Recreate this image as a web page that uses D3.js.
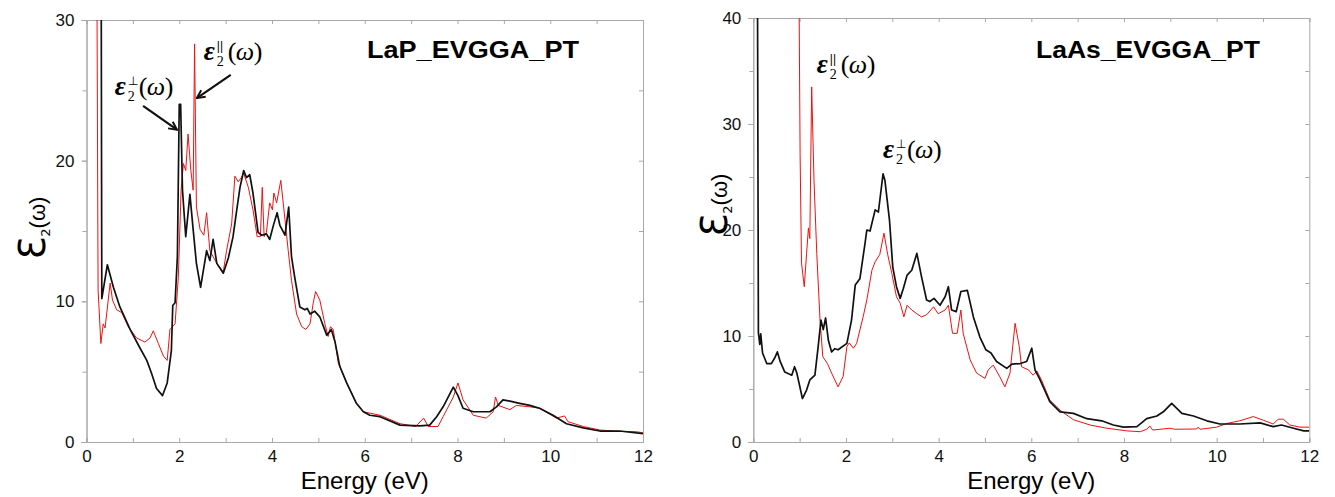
<!DOCTYPE html>
<html>
<head>
<meta charset="utf-8">
<script src="https://cdn.jsdelivr.net/npm/d3@7"></script>
<style>
  body { margin: 0; background: #fff; }
  svg { display: block; }
  .frame path.domain, .frame line { stroke: #a8a8a8; }
  .tick text { font-family: "Liberation Sans", Arial, sans-serif; fill: #111; }
</style>
</head>
<body>
<svg class="chart" width="1335" height="497"></svg>
<script>
// energy (eV), eps2 pairs
let lapPerp = [
  [0.31, 45], [0.33, 10.2], [0.45, 12.6], [0.58, 11.0], [0.72, 9.6], [0.94, 8.0], [1.15, 6.7],
  [1.30, 5.8], [1.40, 4.9], [1.51, 3.8], [1.64, 3.3], [1.74, 4.2], [1.83, 6.5], [1.86, 9.7],
  [1.91, 9.9], [1.96, 13.2], [2.00, 24.0], [2.03, 24.0], [2.07, 17.9], [2.14, 14.6], [2.23, 17.6],
  [2.30, 15.1], [2.37, 12.7], [2.46, 11.0], [2.59, 13.6], [2.66, 12.9], [2.73, 14.4], [2.81, 12.7],
  [2.95, 12.0], [3.06, 13.1], [3.16, 14.6], [3.24, 16.5], [3.31, 18.1], [3.39, 19.3], [3.45, 18.8],
  [3.52, 19.0], [3.59, 17.7], [3.70, 14.9], [3.78, 14.7], [3.88, 14.8], [3.95, 14.4], [4.03, 15.4],
  [4.11, 16.3], [4.17, 15.4], [4.28, 14.7], [4.36, 16.7], [4.42, 13.2], [4.49, 11.7], [4.60, 9.6],
  [4.71, 9.4], [4.76, 9.5], [4.82, 9.1], [4.92, 9.3], [5.03, 8.9], [5.18, 7.6], [5.28, 8.0],
  [5.36, 7.1], [5.46, 5.4], [5.61, 4.2], [5.82, 2.75], [5.97, 2.15], [6.11, 1.9], [6.33, 1.8],
  [6.76, 1.2], [7.19, 1.14], [7.40, 1.2], [7.55, 1.8], [7.69, 2.5], [7.91, 3.9], [8.01, 3.3],
  [8.12, 2.4], [8.34, 2.15], [8.70, 2.15], [8.84, 2.5], [8.98, 3.0], [9.13, 2.9], [9.34, 2.75],
  [9.56, 2.6], [9.77, 2.4], [10.06, 1.9], [10.35, 1.3], [10.71, 1.0], [11.07, 0.78], [11.5, 0.78],
  [12.0, 0.6]
]

let lapPar = [
  [0.21, 45], [0.25, 10.8], [0.31, 7.0], [0.36, 8.4], [0.40, 8.1], [0.51, 11.3], [0.56, 10.1],
  [0.65, 9.4], [0.76, 9.2], [0.90, 8.2], [1.08, 7.4], [1.26, 7.1], [1.37, 7.4], [1.44, 7.9],
  [1.55, 7.0], [1.66, 6.1], [1.74, 5.8], [1.80, 8.0], [1.91, 8.4], [1.98, 11.7], [2.04, 17.9],
  [2.09, 19.8], [2.14, 19.3], [2.19, 21.9], [2.25, 19.3], [2.30, 17.9], [2.33, 28.3], [2.37, 16.7],
  [2.45, 15.1], [2.53, 14.7], [2.59, 16.3], [2.66, 13.6], [2.81, 12.7], [2.95, 12.1], [3.02, 13.6],
  [3.13, 15.5], [3.20, 18.9], [3.27, 18.5], [3.34, 18.8], [3.39, 19.1], [3.49, 18.1], [3.59, 16.5],
  [3.68, 14.6], [3.75, 14.6], [3.79, 18.1], [3.83, 14.6], [3.88, 14.9], [3.95, 17.0], [4.01, 16.5],
  [4.04, 17.7], [4.10, 17.0], [4.19, 18.6], [4.28, 15.8], [4.35, 13.6], [4.42, 11.5], [4.53, 9.1],
  [4.64, 8.2], [4.73, 8.0], [4.82, 8.4], [4.89, 9.9], [4.94, 10.7], [5.03, 10.1], [5.14, 8.4],
  [5.21, 7.5], [5.26, 8.2], [5.32, 8.0], [5.43, 5.6], [5.61, 4.2], [5.82, 2.75], [5.97, 2.15],
  [6.33, 1.9], [6.76, 1.3], [7.10, 1.1], [7.27, 1.7], [7.37, 1.1], [7.58, 1.1], [7.69, 1.8],
  [7.91, 3.2], [8.01, 4.2], [8.12, 3.0], [8.34, 1.9], [8.62, 1.7], [8.77, 2.15], [8.82, 3.2],
  [8.88, 2.6], [9.13, 2.3], [9.27, 2.6], [9.56, 2.5], [9.77, 2.4], [10.13, 1.7], [10.31, 1.85],
  [10.38, 1.45], [10.71, 1.1], [11.07, 0.85], [11.5, 0.75], [11.86, 0.73], [12.0, 0.65]
]

let lasPerp = [
  [0.08, 60], [0.11, 10.3], [0.14, 9.2], [0.16, 10.2], [0.20, 8.4], [0.29, 7.4], [0.39, 7.4],
  [0.47, 8.0], [0.52, 8.5], [0.58, 7.6], [0.68, 6.6], [0.83, 6.3], [0.89, 7.1], [0.94, 6.5],
  [1.06, 4.1], [1.15, 4.9], [1.22, 5.85], [1.33, 6.3], [1.40, 9.0], [1.46, 11.5], [1.51, 10.6],
  [1.56, 11.7], [1.62, 9.6], [1.69, 8.5], [1.76, 8.8], [1.83, 8.7], [2.02, 9.3], [2.12, 11.5],
  [2.20, 14.8], [2.30, 15.4], [2.41, 18.7], [2.45, 20.0], [2.52, 19.9], [2.63, 21.9], [2.70, 21.7],
  [2.80, 25.3], [2.84, 24.7], [2.94, 20.9], [3.01, 16.5], [3.09, 14.65], [3.17, 13.55], [3.24, 14.5],
  [3.32, 15.75], [3.42, 16.2], [3.53, 17.8], [3.63, 15.6], [3.74, 13.4], [3.81, 13.25], [3.90, 13.55],
  [4.03, 12.9], [4.14, 13.7], [4.21, 14.65], [4.28, 12.45], [4.38, 12.3], [4.48, 14.2], [4.62, 14.3],
  [4.75, 11.8], [4.89, 9.9], [5.02, 8.7], [5.13, 8.4], [5.25, 7.6], [5.47, 6.95], [5.58, 7.35],
  [5.76, 7.4], [5.90, 7.6], [6.01, 8.85], [6.08, 6.8], [6.19, 5.85], [6.40, 3.8], [6.62, 2.85],
  [6.91, 2.7], [7.20, 2.2], [7.52, 2.0], [7.77, 1.6], [7.99, 1.4], [8.28, 1.45], [8.49, 2.2],
  [8.71, 2.45], [8.85, 2.85], [9.03, 3.65], [9.25, 2.7], [9.50, 2.45], [9.79, 2.0], [10.07, 1.7],
  [10.50, 1.7], [10.94, 1.8], [11.22, 1.45], [11.40, 1.6], [11.66, 1.3], [11.88, 1.05], [12.0, 1.05]
]

let lasPar = [
  [0.96, 60], [1.01, 27.2], [1.04, 16.9], [1.10, 14.65], [1.15, 17.8], [1.19, 20.2], [1.22, 19.2],
  [1.26, 33.5], [1.31, 24.7], [1.37, 17.8], [1.44, 11.5], [1.50, 8.05], [1.60, 7.4], [1.69, 6.5],
  [1.83, 5.2], [1.94, 6.2], [2.02, 9.0], [2.07, 9.35], [2.16, 8.85], [2.23, 9.3], [2.37, 11.8],
  [2.45, 13.4], [2.56, 16.2], [2.63, 17.0], [2.73, 17.7], [2.82, 19.7], [2.90, 17.7], [2.99, 15.9],
  [3.09, 13.7], [3.17, 13.1], [3.25, 11.8], [3.32, 12.9], [3.42, 12.45], [3.53, 12.1], [3.63, 11.8],
  [3.74, 12.0], [3.89, 12.75], [3.99, 12.1], [4.14, 12.45], [4.21, 12.9], [4.30, 10.25], [4.40, 10.25],
  [4.48, 12.45], [4.53, 10.25], [4.68, 7.75], [4.82, 6.5], [5.00, 6.0], [5.07, 6.8], [5.18, 7.25],
  [5.32, 6.15], [5.43, 5.2], [5.54, 6.5], [5.65, 11.2], [5.74, 9.0], [5.79, 7.1], [5.94, 6.8],
  [6.04, 6.3], [6.12, 6.7], [6.22, 5.85], [6.40, 3.95], [6.62, 3.0], [6.91, 2.1], [7.27, 1.6],
  [7.63, 1.3], [8.06, 1.05], [8.35, 0.97], [8.49, 1.2], [8.56, 1.5], [8.62, 1.13], [8.99, 1.3],
  [9.10, 1.2], [9.57, 1.23], [9.60, 1.4], [9.64, 1.2], [10.0, 1.4], [10.22, 1.75], [10.50, 2.0],
  [10.79, 2.4], [11.01, 2.05], [11.22, 1.7], [11.33, 2.15], [11.44, 2.15], [11.58, 1.6], [11.80, 1.4],
  [12.0, 1.4]
]

let energyTicks = [0, 2, 4, 6, 8, 10, 12]
let lapTicks = [0, 10, 20, 30]
let lasTicks = [0, 10, 20, 30, 40]

let svg = d3.select('.chart')

function panel(opt) {
  let x = d3.scaleLinear().domain([0, 12]).range([opt.left, opt.right])
  let y = d3.scaleLinear().domain([0, opt.ymax]).range([opt.bottom, opt.top])
  let g = svg.append('g')

  let minorY = d3.range(0, opt.ymax + 1, 5)
  let minorX = d3.range(0, 13, 1)

  // frame + ticks
  g.append('g').attr('class', 'frame')
    .attr('transform', 'translate(0,' + opt.bottom + ')')
    .call(d3.axisBottom(x).tickValues(minorX).tickSize(-4).tickFormat(''))
  g.append('g').attr('class', 'frame')
    .attr('transform', 'translate(0,' + opt.bottom + ')')
    .call(d3.axisBottom(x).tickValues(energyTicks).tickSize(0).tickPadding(8))
    .selectAll('text').attr('font-size', 17)
  g.append('g').attr('class', 'frame')
    .attr('transform', 'translate(0,' + opt.top + ')')
    .call(d3.axisTop(x).tickValues(minorX).tickSize(-4).tickFormat(''))
  g.append('g').attr('class', 'frame')
    .attr('transform', 'translate(' + opt.left + ',0)')
    .call(d3.axisLeft(y).tickValues(minorY).tickSize(4).tickFormat(''))
  g.append('g').attr('class', 'frame')
    .attr('transform', 'translate(' + opt.left + ',0)')
    .call(d3.axisLeft(y).tickValues(opt.yticks).tickSize(5).tickPadding(7))
    .selectAll('text').attr('font-size', 17)
  g.append('g').attr('class', 'frame')
    .attr('transform', 'translate(' + opt.right + ',0)')
    .call(d3.axisRight(y).tickValues(minorY).tickSize(-4).tickFormat(''))
  g.selectAll('.frame .domain').attr('stroke', '#a8a8a8')

  // clip the curves to the plot box
  g.append('clipPath').attr('id', opt.id)
    .append('rect')
    .attr('x', opt.left).attr('y', opt.top)
    .attr('width', opt.right - opt.left).attr('height', opt.bottom - opt.top)

  let line = d3.line().x(d => x(d[0])).y(d => y(d[1]))

  g.append('path').datum(opt.par)
    .attr('clip-path', 'url(#' + opt.id + ')')
    .attr('d', line).attr('fill', 'none')
    .attr('stroke', '#f01010').attr('stroke-width', 1).attr('stroke-linejoin', 'round')
  g.append('path').datum(opt.perp)
    .attr('clip-path', 'url(#' + opt.id + ')')
    .attr('d', line).attr('fill', 'none')
    .attr('stroke', '#111').attr('stroke-width', 1.7).attr('stroke-linejoin', 'round')

  // title
  g.append('text')
    .attr('x', opt.titleX).attr('y', 58)
    .attr('font-family', '"Liberation Sans", Arial, sans-serif')
    .attr('font-weight', 'bold').attr('font-size', 23)
    .attr('textLength', opt.titleW).attr('lengthAdjust', 'spacingAndGlyphs')
    .text(opt.title)

  // x label
  g.append('text')
    .attr('x', (opt.left + opt.right) / 2).attr('y', 489)
    .attr('text-anchor', 'middle')
    .attr('font-family', '"Liberation Sans", Arial, sans-serif')
    .attr('font-size', 24)
    .text('Energy (eV)')

  // y label
  let yl = g.append('text')
    .attr('transform', 'translate(' + opt.ylabX + ',' + opt.ylabY + ') rotate(-90)')
    .attr('text-anchor', 'middle')
    .attr('font-family', '"DejaVu Sans", sans-serif')
  yl.append('tspan').attr('font-size', 37).text('Ɛ')
  yl.append('tspan').attr('font-size', 13).attr('dy', 5).text('2')
  yl.append('tspan').attr('font-size', 22).attr('dy', -5)
    .attr('font-family', '"Liberation Sans", Arial, sans-serif').text('(ω)')

  // annotations
  opt.notes.forEach(n => {
    let px = x(n.e), py = y(n.v)
    let t = g.append('g').attr('font-family', '"Liberation Serif", "Times New Roman", serif')
    t.append('text').attr('x', px).attr('y', py)
      .attr('font-size', 27).attr('font-style', 'italic').attr('font-weight', 'bold').text('ε')
    t.append('text').attr('x', px + 13).attr('y', py + 6)
      .attr('font-size', 14).text('2')
    t.append('text').attr('x', px + 13).attr('y', py - 10)
      .attr('font-family', '"Liberation Sans", Arial, sans-serif')
      .attr('font-size', 12).text(n.sup)
    t.append('text').attr('x', px + 24).attr('y', py)
      .attr('font-size', 26).text('(')
    t.append('text').attr('x', px + 32).attr('y', py)
      .attr('font-size', 26).attr('font-style', 'italic').text('ω')
    t.append('text').attr('x', px + 50).attr('y', py)
      .attr('font-size', 26).text(')')
  })

  opt.arrows.forEach(a => {
    let x1 = x(a[0]), y1 = y(a[1]), x2 = x(a[2]), y2 = y(a[3])
    g.append('line').attr('x1', x1).attr('y1', y1).attr('x2', x2).attr('y2', y2)
      .attr('stroke', '#111').attr('stroke-width', 2.2).attr('marker-end', 'url(#arrow)')
  })
}

svg.append('defs').append('marker')
  .attr('id', 'arrow').attr('viewBox', '0 0 10 10')
  .attr('refX', 9).attr('refY', 5)
  .attr('markerWidth', 10).attr('markerHeight', 10)
  .attr('markerUnits', 'userSpaceOnUse')
  .attr('orient', 'auto')
  .append('path').attr('d', 'M1,1 L9,5 L1,9').attr('fill', 'none')
  .attr('stroke', '#111').attr('stroke-width', 2)

panel({
  id: 'clipLaP', left: 86.5, right: 643, top: 20, bottom: 442, ymax: 30, yticks: lapTicks,
  perp: lapPerp, par: lapPar, title: 'LaP_EVGGA_PT', titleX: 367, titleW: 212,
  ylabX: 45, ylabY: 228,
  notes: [{ e: 0.61, v: 24.7, sup: '⊥' }, { e: 2.53, v: 27.15, sup: '||' }],
  arrows: [[1.22, 23.9, 1.95, 22.2], [3.11, 26.1, 2.38, 24.45]]
})

panel({
  id: 'clipLaAs', left: 753.3, right: 1309.3, top: 18, bottom: 442, ymax: 40, yticks: lasTicks,
  perp: lasPerp, par: lasPar, title: 'LaAs_EVGGA_PT', titleX: 1036, titleW: 224,
  ylabX: 727, ylabY: 205,
  notes: [{ e: 1.37, v: 34.8, sup: '||' }, { e: 2.80, v: 26.8, sup: '⊥' }],
  arrows: []
})
</script>
</body>
</html>
